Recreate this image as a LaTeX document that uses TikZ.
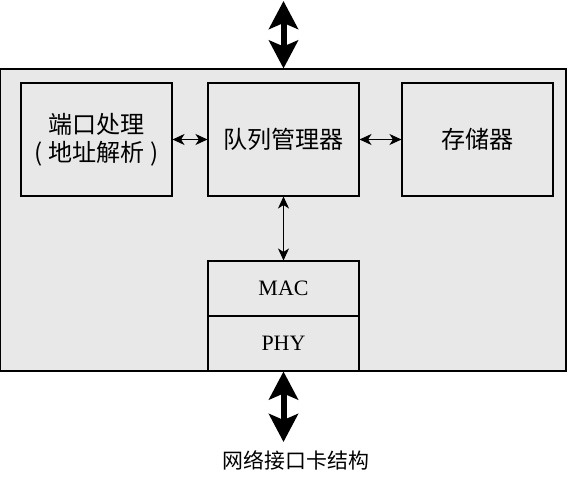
\documentclass[tikz,border=0pt]{standalone}
\usepackage{fontspec}
\setmainfont{Liberation Serif}
\newfontfamily\cjk{Noto Sans CJK SC}
\usetikzlibrary{arrows.meta}
\definecolor{panel}{HTML}{E8E8E8}

\begin{document}
\begin{tikzpicture}
          \tikzstyle{block}=[draw, fill=panel, line width=0.6pt, inner sep=0pt, minimum width=3.02cm, minimum height=2.26cm, align=center, font=\cjk\fontsize{13.7}{15.9}\selectfont]
          \tikzstyle{layer}=[draw, fill=panel, line width=0.6pt, inner sep=0pt, minimum width=3.02cm, minimum height=1.1cm, font=\fontsize{12.5}{15}\selectfont]
          \tikzstyle{link}=[line width=0.6pt, {Stealth[length=0.24cm, width=0.22cm, inset=0.07cm]}-{Stealth[length=0.24cm, width=0.22cm, inset=0.07cm]}]
          \tikzstyle{bus}=[line width=0.12cm, {Stealth[length=0.56cm, width=0.58cm, inset=0.12cm]}-{Stealth[length=0.56cm, width=0.58cm, inset=0.12cm]}]

          \useasboundingbox (0, 0) rectangle (11.34, 9.56);

          \node (card) at (5.665, 5.16) [draw, fill=panel, line width=0.6pt, minimum width=11.31cm, minimum height=6.04cm] {};
          \node (port) at (1.93, 6.77) [block] {端口处理\\( 地址解析 )};
          \node (queue) at (5.67, 6.77) [block] {队列管理器};
          \node (store) at (9.55, 6.77) [block] {存储器};
          \node (mac) at (5.67, 3.79) [layer] {MAC};
          \node (phy) at (5.67, 2.69) [layer] {PHY};
          \coordinate (netA) at (5.67, 9.54);
          \coordinate (netB) at (5.67, 0.72);
          \node (caption) at (5.92, 0.36) [font=\cjk\fontsize{11.9}{14}\selectfont] {网络接口卡结构};

          \draw[link] (port) to (queue);
          \draw[link] (queue) to (store);
          \draw[link] (queue) to (mac);

          \draw[bus] (netA) to (queue |- card.north);
          \draw[bus] (phy.south) to (netB);
        \end{tikzpicture}
\end{document}
